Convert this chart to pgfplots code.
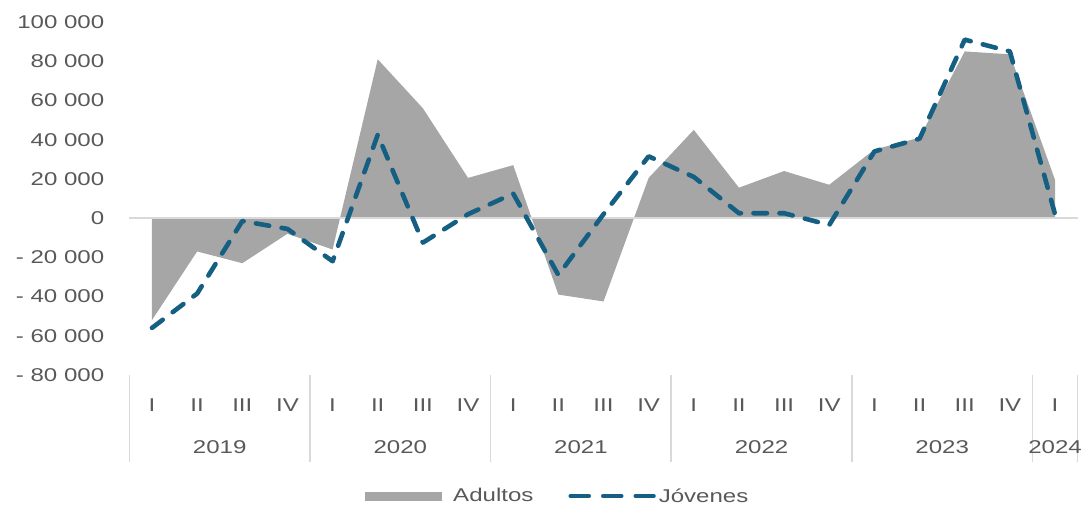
\documentclass[border=0pt]{standalone}
\usepackage{fontspec}
\setmainfont{Liberation Sans}[FakeStretch=1.3]
\usepackage{pgfplots}
\pgfplotsset{compat=1.18}
\definecolor{areac}{RGB}{166,166,166}
\definecolor{joven}{RGB}{21,96,130}
\definecolor{txt}{RGB}{89,89,89}
\definecolor{sepc}{RGB}{217,217,217}
\newcommand{\lblfont}{\fontsize{18.5}{20}\selectfont}
\begin{document}
\begin{tikzpicture}
\useasboundingbox (0,0) rectangle (1083pt,506pt);
\begin{axis}[
  scale only axis, width=948.2pt, height=353pt,
  at={(129.4pt,131pt)}, anchor=south west,
  xmin=-0.5, xmax=20.5, ymin=-80000, ymax=100000,
  axis lines=left, axis line style={draw=none,-}, major tick length=0pt,
  clip=false, scaled y ticks=false,
  xtick={0,...,20},
  xticklabels={I,II,III,IV,I,II,III,IV,I,II,III,IV,I,II,III,IV,I,II,III,IV,I},
  xticklabel style={anchor=base, yshift=-36.8pt, inner sep=0pt},
  ytick={-80000,-60000,-40000,-20000,0,20000,40000,60000,80000,100000},
  yticklabels={- 80 000,- 60 000,- 40 000,- 20 000,0,20 000,40 000,60 000,80 000,100 000},
  yticklabel style={anchor=east, inner sep=0pt, xshift=-25pt},
  tick label style={font=\lblfont, text=txt},
  legend columns=2,
  legend style={at={(axis description cs:0.2485,-0.3428)}, anchor=west,
    draw=none, fill=none, inner sep=0pt, font=\lblfont, text=txt,
    nodes={inner sep=0pt},
    /tikz/every odd column/.append style={column sep=3pt},
    /tikz/every even column/.append style={column sep=35pt}},
]
\addplot[fill=areac, draw=none,
  legend image code/.code={\fill[areac] (0pt,-4.5pt) rectangle (77pt,4.5pt); \path (85pt,0pt);}]
coordinates {(0,0) (0,-52000) (1,-17000) (2,-23000) (3,-8000) (4,-16000)
 (5,81000) (6,56000) (7,20500) (8,27000) (9,-39000) (10,-42500) (11,20500)
 (12,45000) (13,15500) (14,24000) (15,17000) (16,35000) (17,41000)
 (18,85000) (19,83500) (20,19500) (20,0)} -- cycle;
\addlegendentry{Adultos}
\addplot[sepc, line width=1.5pt, forget plot] coordinates {(-0.5,0) (20.5,0)};
\addplot[joven, line width=4.6pt, line cap=round, line join=round,
  dash pattern=on 13.5pt off 12.5pt,
  legend image code/.code={\draw[joven, line width=4.6pt, line cap=round, dash pattern=on 18pt off 14.5pt] (2.25pt,0pt) -- (85pt,0pt);}]
coordinates {(0,-56000) (1,-38500) (2,-1500) (3,-5500) (4,-22000) (5,42500)
 (6,-12500) (7,2000) (8,12500) (9,-29000) (10,2000) (11,31500) (12,21000)
 (13,2500) (14,2500) (15,-3500) (16,34000) (17,40500) (18,91000)
 (19,85000) (20,2000)};
\addlegendentry{Jóvenes}
\draw[sepc, line width=1.5pt] (axis cs:-0.5,-80000) -- ++(0pt,-87pt);
\draw[sepc, line width=1.5pt] (axis cs:3.5,-80000) -- ++(0pt,-87pt);
\draw[sepc, line width=1.5pt] (axis cs:7.5,-80000) -- ++(0pt,-87pt);
\draw[sepc, line width=1.5pt] (axis cs:11.5,-80000) -- ++(0pt,-87pt);
\draw[sepc, line width=1.5pt] (axis cs:15.5,-80000) -- ++(0pt,-87pt);
\draw[sepc, line width=1.5pt] (axis cs:19.5,-80000) -- ++(0pt,-87pt);
\draw[sepc, line width=1.5pt] (axis cs:20.5,-80000) -- ++(0pt,-87pt);
\node[anchor=base, font=\lblfont, text=txt, inner sep=0pt, yshift=-78.8pt] at (axis cs:1.5,-80000) {2019};
\node[anchor=base, font=\lblfont, text=txt, inner sep=0pt, yshift=-78.8pt] at (axis cs:5.5,-80000) {2020};
\node[anchor=base, font=\lblfont, text=txt, inner sep=0pt, yshift=-78.8pt] at (axis cs:9.5,-80000) {2021};
\node[anchor=base, font=\lblfont, text=txt, inner sep=0pt, yshift=-78.8pt] at (axis cs:13.5,-80000) {2022};
\node[anchor=base, font=\lblfont, text=txt, inner sep=0pt, yshift=-78.8pt] at (axis cs:17.5,-80000) {2023};
\node[anchor=base, font=\lblfont, text=txt, inner sep=0pt, yshift=-78.8pt] at (axis cs:20,-80000) {2024};
\end{axis}
\end{tikzpicture}
\end{document}
